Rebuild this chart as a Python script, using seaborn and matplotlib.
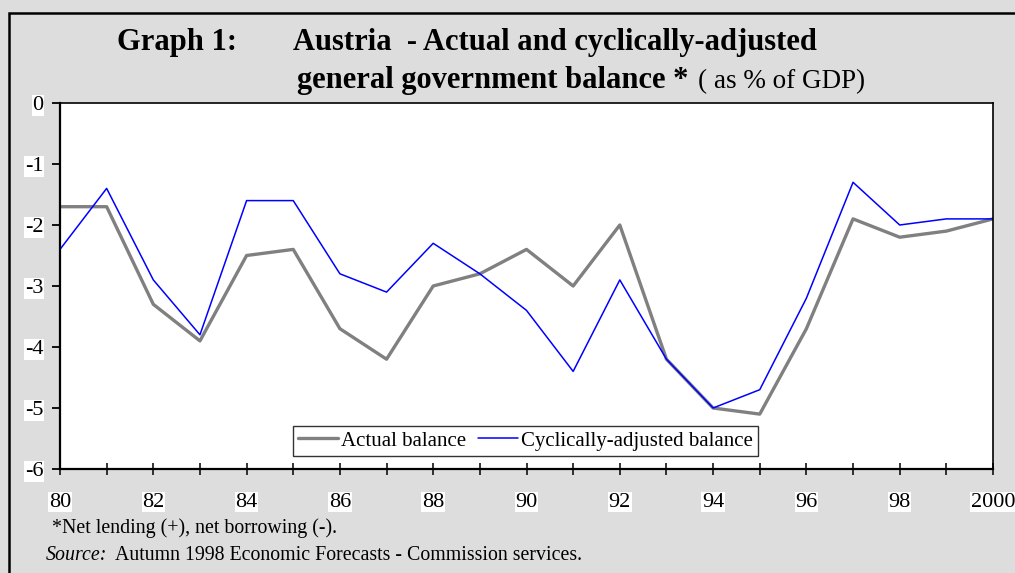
import matplotlib
matplotlib.use("Agg")
import matplotlib.pyplot as plt
from matplotlib.patches import Rectangle
from matplotlib.lines import Line2D
import seaborn as sns
import pandas as pd

# General government balance, % of GDP
years = list(range(1980, 2001))
actual_balance = [-1.7, -1.7, -3.3, -3.9, -2.5, -2.4, -3.7, -4.2, -3.0, -2.8,
                  -2.4, -3.0, -2.0, -4.2, -5.0, -5.1, -3.7, -1.9, -2.2, -2.1, -1.9]
cyc_adj_balance = [-2.4, -1.4, -2.9, -3.8, -1.6, -1.6, -2.8, -3.1, -2.3, -2.8,
                   -3.4, -4.4, -2.9, -4.2, -5.0, -4.7, -3.2, -1.3, -2.0, -1.9, -1.9]
series_names = ["Actual balance", "Cyclically-adjusted balance"]
x_tick_labels = ["80", "", "82", "", "84", "", "86", "", "88", "", "90", "",
                 "92", "", "94", "", "96", "", "98", "", "2000"]
y_ticks = [0, -1, -2, -3, -4, -5, -6]

df = pd.DataFrame({
    "year": years * 2,
    "value": actual_balance + cyc_adj_balance,
    "series": [series_names[0]] * len(years) + [series_names[1]] * len(years),
})

sns.set_theme(style="white")
plt.rcParams["font.family"] = ["Liberation Serif", "DejaVu Serif"]
plt.rcParams["text.color"] = "black"
plt.rcParams["xtick.color"] = "black"
plt.rcParams["ytick.color"] = "black"
plt.rcParams["axes.labelcolor"] = "black"

W, H = 1015, 573
fig = plt.figure(figsize=(W / 100, H / 100), dpi=100)
fig.patch.set_facecolor("#dddddd")

# outer panel border
fig.add_artist(Rectangle((9 / W, -0.05), 1.1, 1 - 13 / H + 0.05,
                         transform=fig.transFigure, fill=False,
                         edgecolor="black", linewidth=1.8))

ax = fig.add_axes([60 / W, (H - 469) / H, (993 - 60) / W, (469 - 103) / H])
ax.set_facecolor("white")

palette = {series_names[0]: "#808080", series_names[1]: "#0000ff"}
sns.lineplot(data=df, x="year", y="value", hue="series", palette=palette,
             size="series", sizes={series_names[0]: 2.4, series_names[1]: 1.1},
             ax=ax, legend=False)

ax.set_xlim(1980, 2000)
ax.set_ylim(-6, 0)
ax.set_xticks(years)
ax.set_xticklabels(x_tick_labels)
ax.set_yticks(y_ticks)
ax.set_yticklabels([str(v) for v in y_ticks])
ax.set_xlabel("")
ax.set_ylabel("")

for side in ["left", "bottom"]:
    ax.spines[side].set_linewidth(1.6)
for side in ["top", "right"]:
    ax.spines[side].set_linewidth(1.2)
for s in ax.spines.values():
    s.set_color("black")

ax.tick_params(axis="y", direction="out", length=6, width=1.3, pad=6,
               labelsize=16, colors="black", left=True)
ax.tick_params(axis="x", direction="inout", length=8, width=1.1, pad=13,
               labelsize=16, colors="black", bottom=True)
for lbl in ax.get_xticklabels() + ax.get_yticklabels():
    if lbl.get_text():
        lbl.set_bbox(dict(facecolor="white", edgecolor="none", pad=0.5))

# legend
handles = [Line2D([], [], color="#808080", lw=2.4),
           Line2D([], [], color="#0000ff", lw=1.1)]
leg = ax.legend(handles, series_names, loc="lower center",
                bbox_to_anchor=(0.499, 0.036), ncol=2, fontsize=15,
                frameon=True, fancybox=False, edgecolor="black",
                handlelength=1.9, handletextpad=0.15, columnspacing=0.6,
                borderpad=0.25, borderaxespad=0)
leg.get_frame().set_linewidth(1.0)
for t in leg.get_texts():
    t.set_color("black")

# titles
fig.text(117 / W, 1 - 50 / H, "Graph 1:", fontsize=22, fontweight="bold",
         va="baseline", ha="left")
fig.text(293 / W, 1 - 50 / H, "Austria  - Actual and cyclically-adjusted",
         fontsize=22, fontweight="bold", va="baseline", ha="left")
t2 = fig.text(297 / W, 1 - 88 / H, "general government balance * ",
              fontsize=22, fontweight="bold", va="baseline", ha="left")
fig.canvas.draw()
bb = t2.get_window_extent()
fig.text((bb.x1 + 2) / W, 1 - 88 / H, "( as % of GDP)", fontsize=19.5,
         va="baseline", ha="left")

# notes
fig.text(52 / W, 1 - 528 / H, "*Net lending (+), net borrowing (-).",
         fontsize=14.3, va="center", ha="left")
s1 = fig.text(46 / W, 1 - 556 / H, "Source:", fontsize=14.3, style="italic",
              va="center", ha="left")
fig.canvas.draw()
bb = s1.get_window_extent()
fig.text((bb.x1 + 8) / W, 1 - 556 / H,
         "Autumn 1998 Economic Forecasts - Commission services.",
         fontsize=14.3, va="center", ha="left")

fig.savefig("out.png", dpi=100, facecolor=fig.get_facecolor())
